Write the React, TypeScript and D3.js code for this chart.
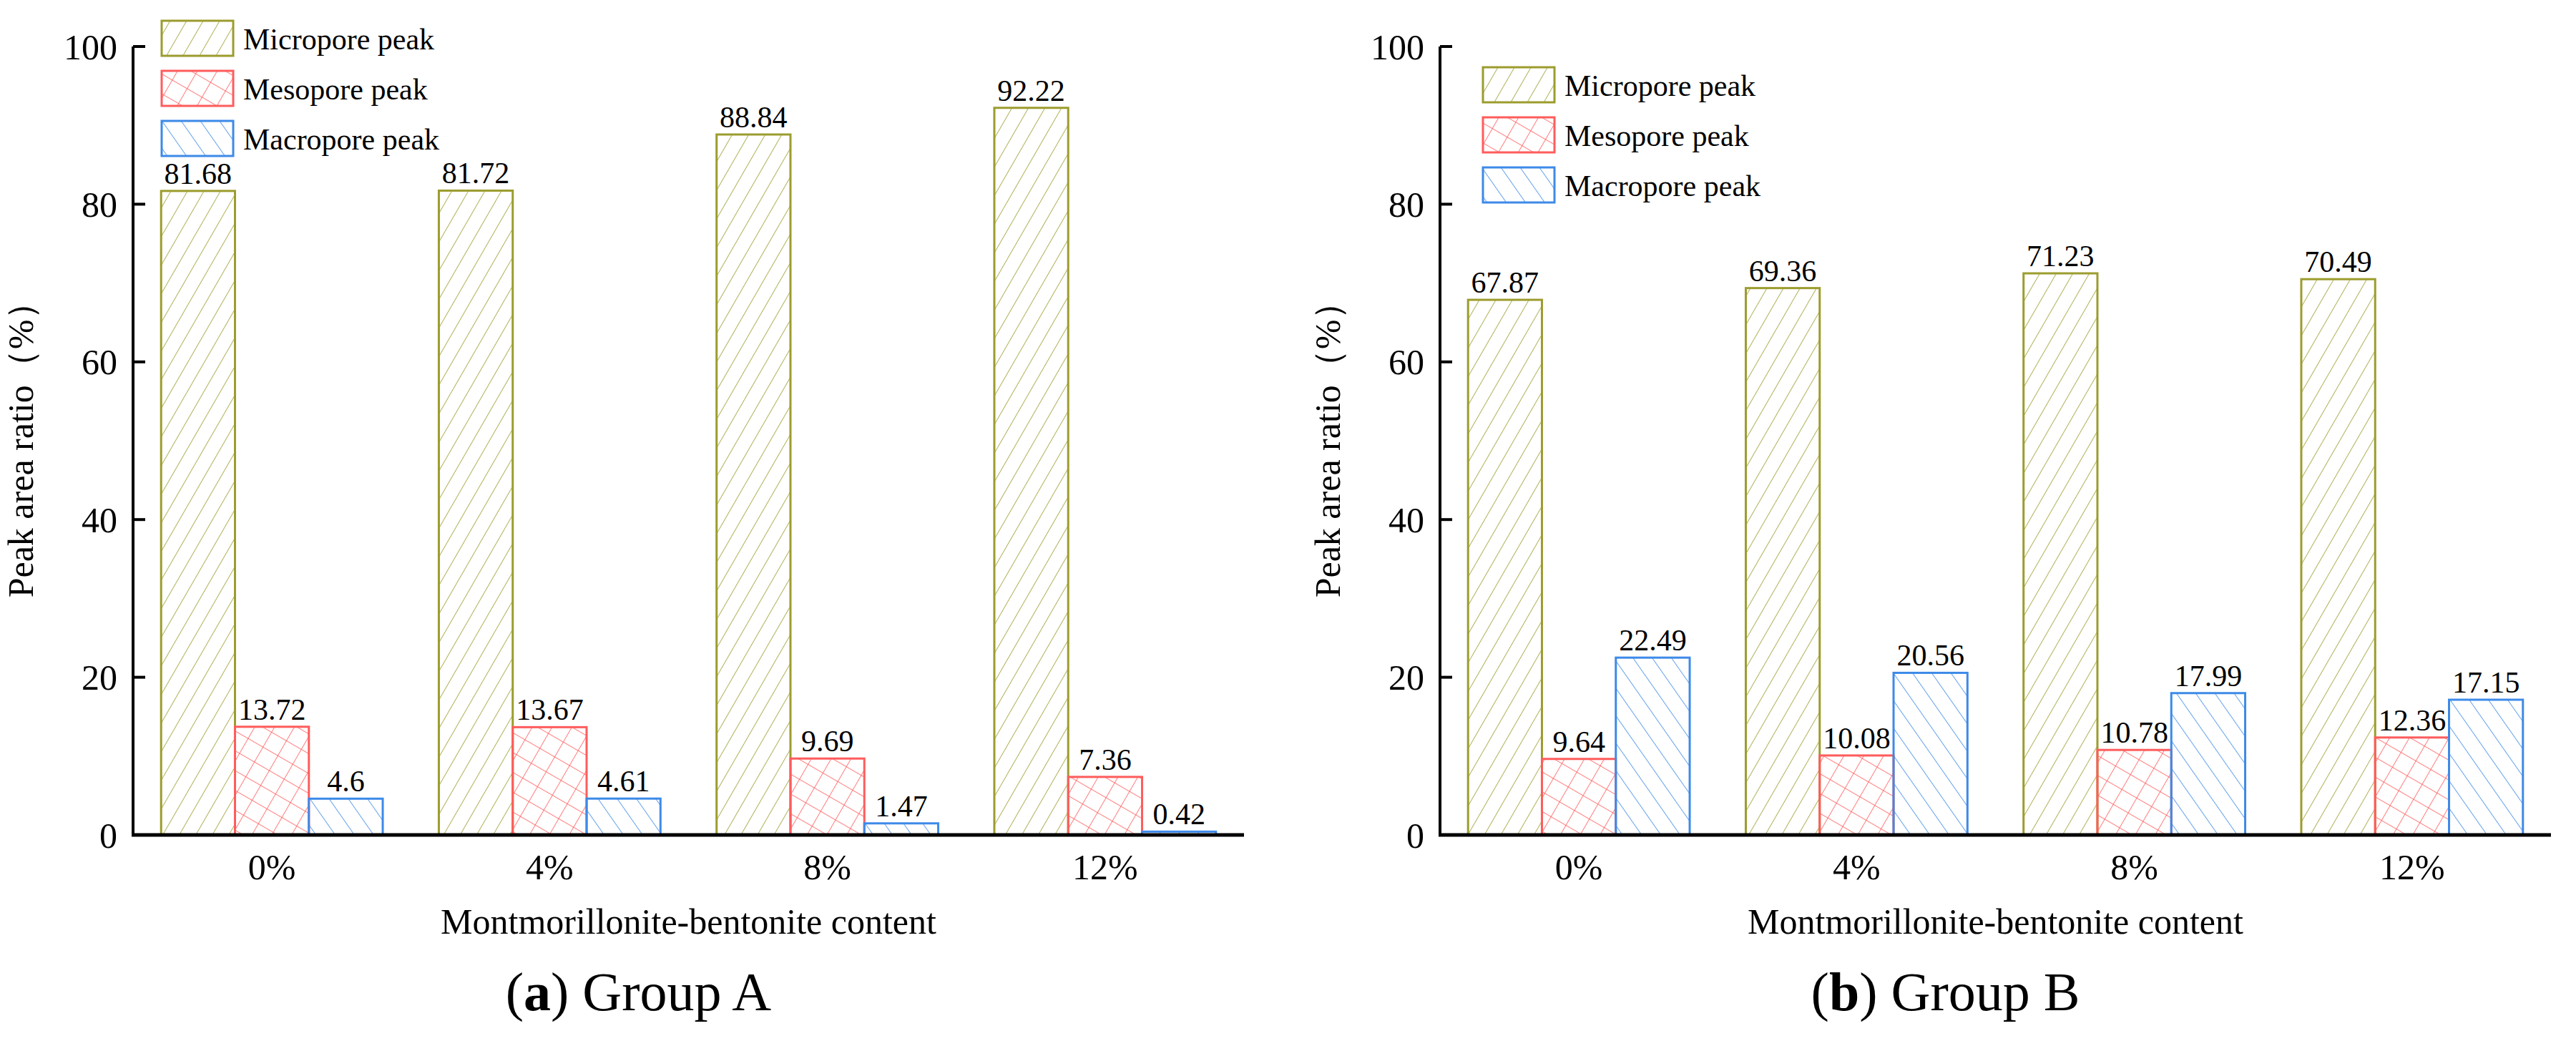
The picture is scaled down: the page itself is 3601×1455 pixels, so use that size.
import React, { useEffect, useRef } from 'react';
import * as d3 from 'd3';

const categories = ['0%', '4%', '8%', '12%'];
const seriesNames = ['Micropore peak', 'Mesopore peak', 'Macropore peak'];
const groupA = [
  [81.68, 81.72, 88.84, 92.22],
  [13.72, 13.67, 9.69, 7.36],
  [4.6, 4.61, 1.47, 0.42],
];
const groupB = [
  [67.87, 69.36, 71.23, 70.49],
  [9.64, 10.08, 10.78, 12.36],
  [22.49, 20.56, 17.99, 17.15],
];
const yTicks = [0, 20, 40, 60, 80, 100];
const colors = ['#9c9c2e', '#ff5c5c', '#3d8ae8'];

const font = 'Times New Roman, Liberation Serif, serif';

const App: React.FC = () => {
  const svgRef = useRef<SVGSVGElement | null>(null);

  useEffect(() => {
    if (!svgRef.current) return;
    const svg = d3.select(svgRef.current);
    svg.selectAll('*').remove();

    // hatch patterns
    const defs = svg.append('defs');
    const mk = (id: string, color: string, size: number, rot: number, cross: boolean) => {
      const p = defs.append('pattern')
        .attr('id', id)
        .attr('patternUnits', 'userSpaceOnUse')
        .attr('width', size).attr('height', size)
        .attr('patternTransform', `rotate(${rot})`);
      p.append('line').attr('x1', 0).attr('y1', 0).attr('x2', 0).attr('y2', size)
        .attr('stroke', color).attr('stroke-width', 1.6);
      if (cross) {
        p.append('line').attr('x1', 0).attr('y1', 0).attr('x2', size).attr('y2', 0)
          .attr('stroke', color).attr('stroke-width', 1.6);
      }
    };
    mk('pMicro', colors[0], 20, 30, false);
    mk('pMeso', colors[1], 24, 30, true);
    mk('pMacro', colors[2], 22, -35, false);
    const fills = ['url(#pMicro)', 'url(#pMeso)', 'url(#pMacro)'];

    const top = 65;
    const bottom = 1167;

    const drawPanel = (left: number, data: number[][], label: string, legend: [number, number, number]) => {
      const right = left + 1553;
      const x = d3.scaleBand<string>().domain(categories).range([left, right]);
      const y = d3.scaleLinear().domain([0, 100]).range([bottom, top]);
      const bw = x.bandwidth() * 0.266;
      const g = svg.append('g');

      data.forEach((vals, s) => {
        vals.forEach((v, i) => {
          const cx = (x(categories[i]) as number) + x.bandwidth() / 2 + (s - 1) * bw;
          g.append('rect')
            .attr('x', cx - bw / 2).attr('y', y(v))
            .attr('width', bw).attr('height', bottom - y(v))
            .attr('fill', fills[s]).attr('stroke', colors[s]).attr('stroke-width', 3);
          g.append('text')
            .attr('x', cx).attr('y', y(v) - 10)
            .attr('text-anchor', 'middle')
            .attr('font-family', font).attr('font-size', 42)
            .text(String(v));
        });
      });

      // y axis
      g.append('line').attr('x1', left).attr('x2', left).attr('y1', top).attr('y2', bottom)
        .attr('stroke', '#000').attr('stroke-width', 4);
      yTicks.forEach(t => {
        g.append('line').attr('x1', left).attr('x2', left + 17).attr('y1', y(t)).attr('y2', y(t))
          .attr('stroke', '#000').attr('stroke-width', 4);
        g.append('text').attr('x', left - 22).attr('y', y(t)).attr('dy', '0.35em')
          .attr('text-anchor', 'end').attr('font-family', font).attr('font-size', 50)
          .text(String(t));
      });
      // x axis
      g.append('line').attr('x1', left - 2).attr('x2', right).attr('y1', bottom).attr('y2', bottom)
        .attr('stroke', '#000').attr('stroke-width', 5);
      categories.forEach(c => {
        g.append('text').attr('x', (x(c) as number) + x.bandwidth() / 2).attr('y', bottom + 62)
          .attr('text-anchor', 'middle').attr('font-family', font).attr('font-size', 50).text(c);
      });
      g.append('text').attr('x', (left + right) / 2).attr('y', bottom + 138)
        .attr('text-anchor', 'middle').attr('font-family', font).attr('font-size', 50)
        .text('Montmorillonite-bentonite content');
      g.append('text')
        .attr('transform', `translate(${left - 140},${(top + bottom) / 2}) rotate(-90)`)
        .attr('text-anchor', 'middle').attr('font-family', font).attr('font-size', 50)
        .text('Peak area ratio（%）');
      const cap = g.append('text').attr('x', (left + right) / 2 - 70).attr('y', bottom + 245)
        .attr('text-anchor', 'middle').attr('font-family', font).attr('font-size', 76);
      cap.append('tspan').text('(');
      cap.append('tspan').attr('font-weight', 'bold').text(label);
      cap.append('tspan').text(`) Group ${label.toUpperCase()}`);

      // legend
      const [lx, ly, gap] = legend;
      seriesNames.forEach((n, s) => {
        const yy = ly + s * gap;
        g.append('rect').attr('x', lx).attr('y', yy).attr('width', 100).attr('height', 49)
          .attr('fill', fills[s]).attr('stroke', colors[s]).attr('stroke-width', 3);
        g.append('text').attr('x', lx + 114).attr('y', yy + 25).attr('dy', '0.35em')
          .attr('font-family', font).attr('font-size', 42).text(n);
      });
    };

    drawPanel(186, groupA, 'a', [226, 29, 70]);
    drawPanel(2013, groupB, 'b', [2073, 94, 70]);
  }, []);

  return (
    <svg ref={svgRef} width={3601} height={1455}
      style={{ position: 'absolute', left: 0, top: 0, background: '#fff' }} />
  );
};

export default App;
